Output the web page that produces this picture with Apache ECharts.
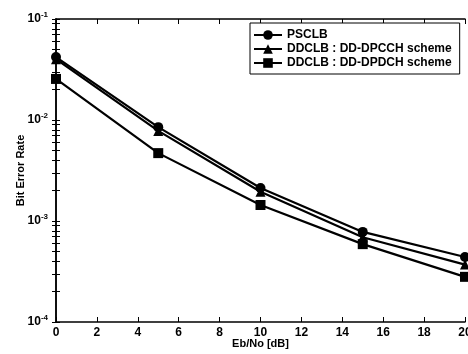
<!DOCTYPE html>
<html>
<head>
<meta charset="utf-8">
<script src="https://cdn.jsdelivr.net/npm/echarts@6/dist/echarts.min.js"></script>
<style>
  html, body { margin: 0; padding: 0; background: #fff; }
  #chart { width: 468px; height: 354px; }
</style>
</head>
<body>
<div id="chart"></div>
<script>
  // Eb/No points (dB)
  const ebno = [0, 5, 10, 15, 20]
  const psclb = [0.042, 0.0085, 0.00212, 0.00078, 0.00044]
  const dpcch = [0.040, 0.0078, 0.00195, 0.00069, 0.00037]
  const dpdch = [0.0255, 0.0047, 0.00144, 0.00059, 0.00028]
  const names = ['PSCLB', 'DDCLB : DD-DPCCH scheme', 'DDCLB : DD-DPDCH scheme']
  const decades = [1e-4, 1e-3, 1e-2, 1e-1]

  const minorVals = []
  for (let e = -4; e < -1; e++) {
    for (let m = 1; m <= 9; m++) minorVals.push(+(m * Math.pow(10, e)).toPrecision(3))
  }
  minorVals.push(0.1)

  const font = { fontFamily: 'Liberation Sans', color: '#000' }

  const toPairs = (ys) => ebno.map((x, i) => [x, ys[i]])

  const mkSeries = (name, ys, symbol) => ({
    name: name,
    type: 'line',
    data: toPairs(ys),
    symbol: symbol,
    symbolSize: 10,
    lineStyle: { color: '#000', width: 2.2 },
    itemStyle: { color: '#000' },
    animation: false
  })

  const myChart = echarts.init(document.getElementById('chart'))
  const option = {
    backgroundColor: '#fff',
    animation: false,
    grid: { left: 56, right: 3, top: 19, bottom: 32, outerBoundsMode: 'none' },
    legend: {
      orient: 'vertical',
      left: 250,
      top: 23,
      padding: [6, 8, 5, 3],
      itemGap: 2,
      itemWidth: 28,
      itemHeight: 12,
      borderColor: '#000',
      borderWidth: 1,
      backgroundColor: '#fff',
      borderRadius: 0,
      textStyle: Object.assign({ fontSize: 12, fontWeight: 'bold' }, font),
      data: names
    },
    xAxis: [{
      type: 'value',
      min: 0,
      max: 20,
      interval: 2,
      name: 'Eb/No [dB]',
      nameLocation: 'middle',
      nameGap: 16,
      nameMoveOverlap: false,
      nameTextStyle: Object.assign({ fontSize: 11, fontWeight: 'bold' }, font),
      axisLine: { lineStyle: { color: '#000', width: 1.5 } },
      axisTick: { inside: true, length: 5, lineStyle: { color: '#000' } },
      axisLabel: Object.assign({ fontSize: 12, fontWeight: 'bold', margin: 5 }, font),
      splitLine: { show: false }
    }, {
      type: 'value',
      position: 'top',
      min: 0,
      max: 20,
      interval: 2,
      axisLine: { show: true, lineStyle: { color: '#000', width: 1.5 } },
      axisTick: { inside: true, length: 5, lineStyle: { color: '#000' } },
      axisLabel: { show: false },
      splitLine: { show: false }
    }],
    yAxis: [{
      type: 'log',
      logBase: 10,
      min: 1e-4,
      max: 1e-1,
      name: 'Bit Error Rate',
      nameLocation: 'middle',
      nameGap: 30,
      nameMoveOverlap: false,
      nameTextStyle: Object.assign({ fontSize: 11, fontWeight: 'bold' }, font),
      axisLine: { show: true, lineStyle: { color: '#000', width: 1.5 } },
      axisTick: { inside: true, length: 4, lineStyle: { color: '#000' }, customValues: minorVals },
      axisLabel: Object.assign({
        fontSize: 12,
        fontWeight: 'bold',
        margin: 8,
        customValues: decades,
        formatter: (v) => '10{s|' + Math.round(Math.log10(v)) + '}',
        rich: { s: { fontSize: 8, fontWeight: 'bold', verticalAlign: 'top', padding: [0, 0, 8, 0], fontFamily: 'Liberation Sans' } }
      }, font),
      splitLine: { show: false }
    }, {
      type: 'log',
      logBase: 10,
      min: 1e-4,
      max: 1e-1,
      position: 'right',
      axisLine: { show: true, lineStyle: { color: '#000', width: 1.5 } },
      axisTick: { inside: true, length: 4, lineStyle: { color: '#000' }, customValues: minorVals },
      axisLabel: { show: false },
      splitLine: { show: false }
    }],
    series: [
      mkSeries(names[0], psclb, 'circle'),
      mkSeries(names[1], dpcch, 'triangle'),
      mkSeries(names[2], dpdch, 'rect')
    ]
  }
  myChart.setOption(option)
</script>
</body>
</html>
